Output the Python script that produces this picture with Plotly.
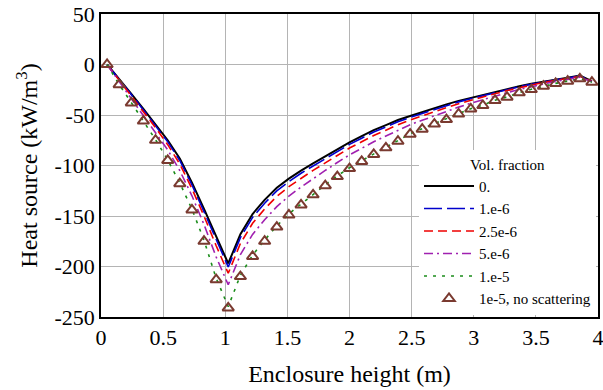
import plotly.graph_objects as go

# cell-centre positions along the enclosure height (m)
height = [0.049, 0.146, 0.244, 0.341, 0.439, 0.537, 0.634, 0.732, 0.829, 0.927,
          1.024, 1.122, 1.220, 1.317, 1.415, 1.512, 1.610, 1.707, 1.805, 1.902,
          2.000, 2.098, 2.195, 2.293, 2.390, 2.488, 2.585, 2.683, 2.780, 2.878,
          2.976, 3.073, 3.171, 3.268, 3.366, 3.463, 3.561, 3.659, 3.756, 3.854,
          3.951]

vf_0 = [0, -14, -29, -44, -59, -75, -93, -117, -143, -170,
        -197, -168, -148, -134, -122, -113, -105, -98, -91, -84,
        -77, -71, -65, -60, -55, -51, -47, -43, -39.5, -36,
        -33, -30, -27, -24, -21.5, -19, -16.8, -14.8, -13, -11,
        -16.5]
vf_1e6 = [0, -14.5, -29.7, -45, -60.3, -76.6, -95, -119.2, -145.6, -173.4,
          -200.5, -171.4, -151.4, -137.3, -125.1, -115.9, -107.7, -100.5, -93.3, -86.2,
          -79.1, -73, -66.9, -61.8, -56.7, -52.4, -48.4, -44.3, -40.7, -37,
          -33.9, -30.8, -27.7, -24.7, -22, -19.5, -17.2, -15.1, -13.3, -11.3,
          -16.6]
vf_25e6 = [0, -15.3, -31, -46.6, -62.5, -79.4, -98.5, -122.9, -150, -179.5,
           -206.7, -177.2, -157.2, -143, -130.6, -120.9, -112.5, -104.8, -97.4, -89.9,
           -82.7, -76.5, -70.3, -65, -59.6, -55, -50.7, -46.5, -42.8, -38.9,
           -35.4, -32.3, -28.9, -25.8, -22.9, -20.3, -17.8, -15.7, -13.8, -11.7,
           -16.7]
vf_5e6 = [0, -16.9, -33.3, -49.8, -66.7, -84.6, -105, -130, -158.4, -190.6,
          -218.1, -188.2, -168.2, -153.7, -140.7, -130.3, -121.3, -112.9, -104.9, -97,
          -89.5, -83, -76.5, -70.8, -65.1, -59.6, -55.2, -50.7, -46.7, -42.2,
          -38.3, -35.1, -31.1, -28, -24.6, -21.8, -19, -16.7, -14.7, -12.5,
          -17]
vf_1e5 = [0, -19.8, -37.7, -55.6, -74.5, -94.4, -117.3, -143.2, -174, -211.7,
          -239.7, -208.7, -188.7, -173.8, -159.8, -147.9, -138, -128.1, -119.1, -110.2,
          -102.2, -95.3, -88.3, -81.8, -75.4, -68.5, -63.5, -58.5, -54.1, -48.6,
          -43.7, -40.3, -35.3, -32.1, -27.8, -24.6, -21.4, -18.7, -16.4, -14.1,
          -17.5]
vf_1e5_noscat = [0, -20, -38, -56, -75, -95, -118, -144, -175, -213,
                 -241, -210, -190, -175, -161, -149, -139, -129, -120, -111,
                 -103, -96, -89, -82.5, -76, -69, -64, -59, -54.5, -49,
                 -44, -40.6, -35.6, -32.4, -28, -24.8, -21.5, -18.8, -16.5, -14.2,
                 -17.5]

x_ticks = [0, 0.5, 1, 1.5, 2, 2.5, 3, 3.5, 4]
x_tick_text = ["0", "0.5", "1", "1.5", "2", "2.5", "3", "3.5", "4"]
y_ticks = [50, 0, -50, -100, -150, -200, -250]
y_tick_text = ["50", "0", "-50", "-100", "-150", "-200", "-250"]

FONT = "Liberation Serif, Times New Roman, serif"
tick_font = dict(family=FONT, size=22, color="black")

fig = go.Figure()
series = [
    ("0.", vf_0, "black", "solid", 2),
    ("1.e-6", vf_1e6, "#0000cc", "18px,5px", 1.6),
    ("2.5e-6", vf_25e6, "#ee0000", "9px,5px", 1.6),
    ("5.e-6", vf_5e6, "#a020b0", "9px,4px,2px,4px", 1.6),
    ("1.e-5", vf_1e5, "#1a8c1a", "3px,6px", 1.6),
]
for name, ys, col, dash, w in series:
    fig.add_trace(go.Scatter(x=height, y=ys, mode="lines", name=name,
                             line=dict(color=col, dash=dash, width=w)))
fig.add_trace(go.Scatter(x=height, y=vf_1e5_noscat, mode="markers",
                         name="1e-5, no scattering",
                         marker=dict(symbol="triangle-up-open", size=10,
                                     color="#7a3a30", line=dict(width=2, color="#7a3a30"))))

fig.update_layout(
    width=603, height=390,
    margin=dict(l=101, r=5, t=14, b=73),
    paper_bgcolor="white", plot_bgcolor="white",
    font=dict(family=FONT, size=21, color="black"),
    showlegend=True,
    legend=dict(x=0.996, y=0.006, xanchor="right", yanchor="bottom",
                bgcolor="white", borderwidth=0,
                font=dict(family=FONT, size=15, color="black"),
                title=dict(text="Vol. fraction", side="top center",
                           font=dict(family=FONT, size=15, color="black")),
                itemwidth=50, tracegroupgap=0),
    xaxis=dict(range=[0, 4], tickvals=x_ticks, ticktext=x_tick_text,
               tickfont=tick_font, automargin=False, ticklabeloverflow="allow",
               showgrid=True, gridcolor="#b4b4b4", gridwidth=1,
               showline=True, linecolor="black", linewidth=1.5, mirror=True,
               zeroline=False, ticks="",
               title=dict(text="Enclosure height (m)",
                          font=dict(family=FONT, size=24, color="black"), standoff=16)),
    yaxis=dict(range=[-250, 50], tickvals=y_ticks, ticktext=y_tick_text,
               tickfont=tick_font, automargin=False, ticklabeloverflow="allow",
               showgrid=True, gridcolor="#b4b4b4", gridwidth=1,
               showline=True, linecolor="black", linewidth=1.5, mirror=True,
               zeroline=False, ticks="",
               title=dict(text="Heat source (kW/m<sup>3</sup>)",
                          font=dict(family=FONT, size=24, color="black"), standoff=10)),
)

fig.write_html("out.html", config={"displayModeBar": False},
               post_script="document.body.style.margin='0';document.body.style.padding='0';")
